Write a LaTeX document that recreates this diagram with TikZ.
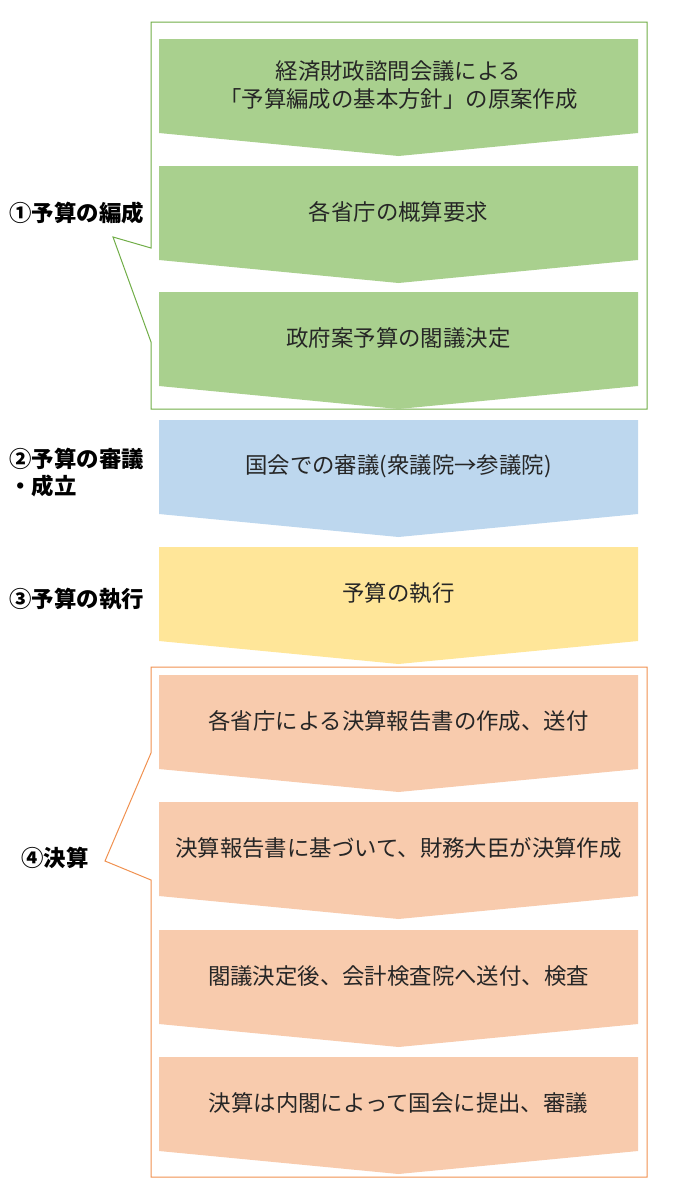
\documentclass[tikz,border=0pt]{standalone}
\usepackage{fontspec}
\setmainfont{Noto Sans CJK JP}
\usepackage{xcolor}
\usetikzlibrary{positioning}

\definecolor{stepgreen}{HTML}{A9D08E}
\definecolor{stepblue}{HTML}{BDD7EE}
\definecolor{stepyellow}{HTML}{FFE699}
\definecolor{steporange}{HTML}{F8CBAD}
\definecolor{framegreen}{HTML}{70AD47}
\definecolor{frameorange}{HTML}{ED7D31}

\tikzset{
  steptext/.style={text=black!85, align=center, font=\fontsize{22.4}{28}\selectfont},
  phaselabel/.style={anchor=west, align=left, font=\fontsize{22.4}{27}\selectfont\bfseries},
}

\begin{document}
\begin{tikzpicture}[x=1pt, y=-1pt]
  \useasboundingbox (0,0) rectangle (675,1200);

  % callout frames
  \draw[framegreen, line width=1pt] (151,248) -- (151,22) -- (647,22) -- (647,409)
    -- (151,409) -- (151,342) -- (113,237) -- cycle;
  \draw[frameorange!85, line width=1pt] (151,753) -- (151,667) -- (647,667) -- (647,1177)
    -- (151,1177) -- (151,880) -- (105,861) -- cycle;

  % chevrons
  \foreach \t/\c/\n/\txt in {
      39/stepgreen/s1/{経済財政諮問会議による\\「予算編成の基本方針」の原案作成},
      166/stepgreen/s2/{各省庁の概算要求},
      292/stepgreen/s3/{政府案予算の閣議決定},
      420/stepblue/s4/{国会での審議(衆議院→参議院)},
      547/stepyellow/s5/{予算の執行},
      675/steporange/s6/{各省庁による決算報告書の作成、送付},
      802/steporange/s7/{決算報告書に基づいて、財務大臣が決算作成},
      930/steporange/s8/{閣議決定後、会計検査院へ送付、検査},
      1057/steporange/s9/{決算は内閣によって国会に提出、審議}} {
    \fill[\c] (159,\t) -- (638,\t) -- (638,\t+94) -- (398.5,\t+117) -- (159,\t+94) -- cycle;
    \node[steptext] (\n) at (398.5,\t+46) {\txt};
  }

  % phase labels
  \node[phaselabel] (p1) at (6,213) {①予算の編成};
  \node[phaselabel] (p2) at (6,473) {②予算の審議\\・成立};
  \node[phaselabel] (p3) at (6,599) {③予算の執行};
  \node[phaselabel] (p4) at (18,858) {④決算};
\end{tikzpicture}
\end{document}
